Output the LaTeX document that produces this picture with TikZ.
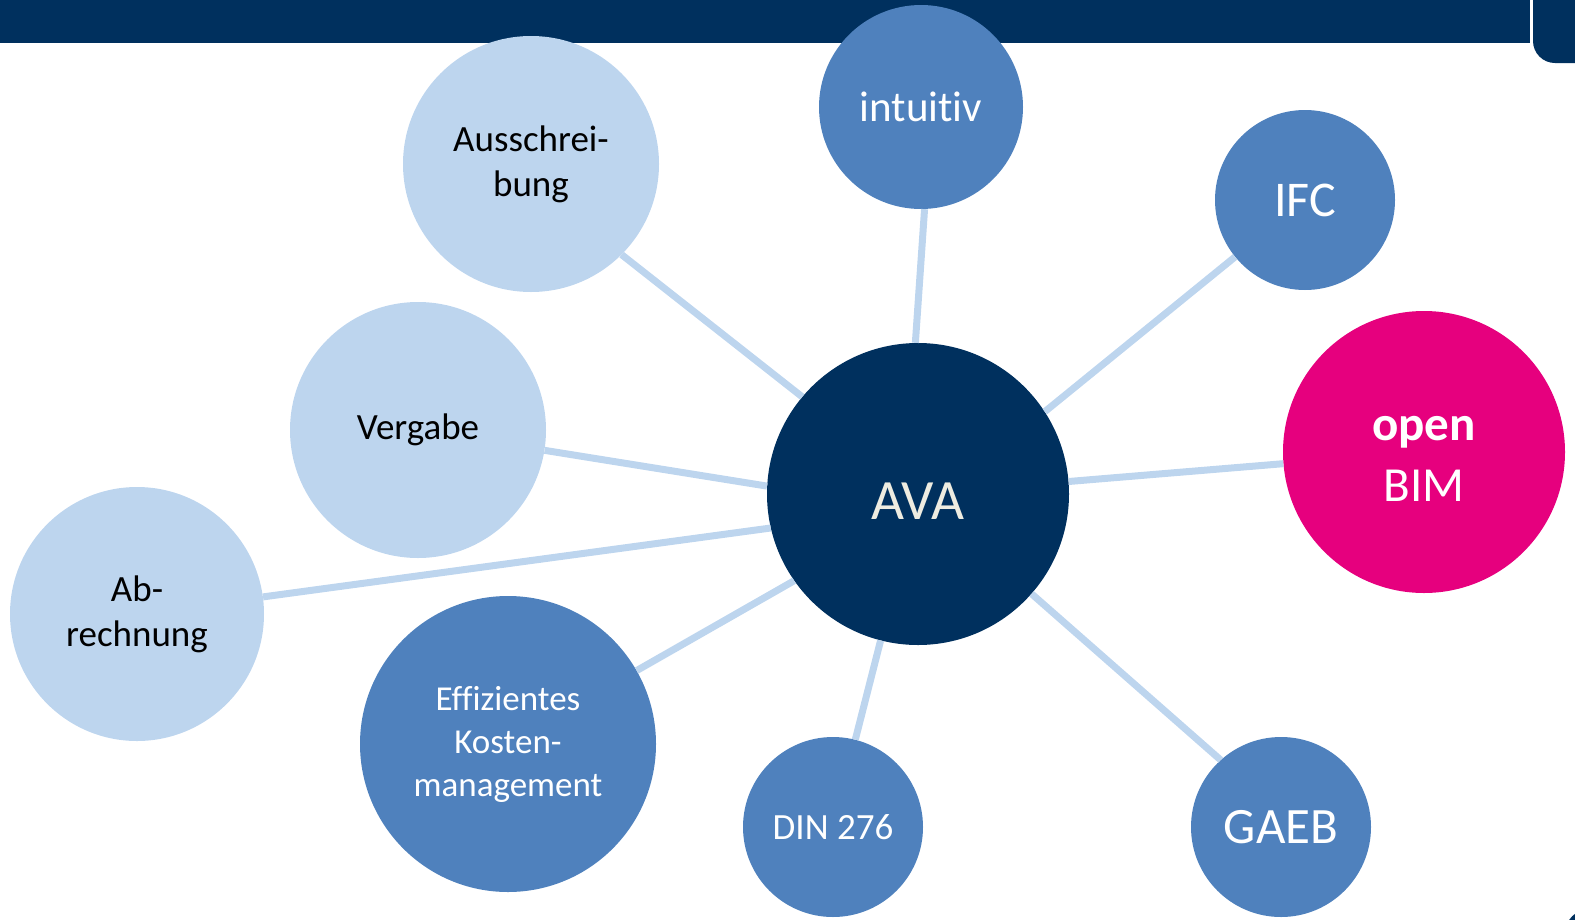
\documentclass[tikz,border=0pt]{standalone}
\usepackage{fontspec}
\setmainfont{Carlito}[Ligatures=NoCommon]
\definecolor{navycol}{RGB}{0,48,94}
\definecolor{bluecol}{RGB}{79,129,189}
\definecolor{lightcol}{RGB}{189,213,238}
\definecolor{pinkcol}{RGB}{230,0,126}
\definecolor{avatext}{RGB}{238,236,225}

\begin{document}
\begin{tikzpicture}[x=1pt, y=-1pt,
    bubble/.style={circle, inner sep=0pt, align=center},
    light/.style={bubble, fill=lightcol, text=black, font=\fontsize{37}{45}\selectfont},
    mid/.style={bubble, fill=bluecol, text=white},
    link/.style={lightcol, line width=7pt}]
    \useasboundingbox (0,0) rectangle (1575,919);
    \clip (0,0) rectangle (1575,919);

    % header bar
    \fill[navycol] (0,-10) rectangle (1530,43);
    \fill[navycol, rounded corners=22pt] (1533,-40) rectangle (1620,63);
    \fill[navycol] (1592,936) circle (28);

    \node[bubble, fill=navycol, text=avatext, minimum size=302, font=\fontsize{57}{68}\selectfont,
          text height=51pt, text depth=0pt] (ava) at (918,494) {AVA};

    \node[light, minimum size=256] (aus) at (531,164) {Ausschrei-\\bung};
    \node[light, minimum size=256] (verg) at (418,430) {Vergabe};
    \node[light, minimum size=254] (abr) at (137,614) {Ab-\\rechnung};

    \node[mid, minimum size=204, font=\fontsize{43}{52}\selectfont] (intu) at (921,107) {intuitiv};
    \node[mid, minimum size=180, font=\fontsize{50}{60}\selectfont] (ifc) at (1305,200) {IFC};
    \node[mid, minimum size=180, font=\fontsize{51}{62}\selectfont] (gaeb) at (1281,827) {GAEB};
    \node[mid, minimum size=180, font=\fontsize{37}{45}\selectfont] (din) at (833,827) {DIN 276};
    \node[mid, minimum size=296, font=\fontsize{35}{43}\selectfont] (kost) at (508,744) {Effizientes\\Kosten-\\management};

    \node[bubble, fill=pinkcol, text=white, minimum size=282, font=\fontsize{49}{61}\selectfont,
          text height=99pt, text depth=0pt] (bim) at (1424,452) {\textbf{open}\\BIM};

    % links
    \draw[link] (ava.140) -- (aus.315);
    \draw[link] (ava.177) -- (verg);
    \draw[link] (ava.193) -- (abr);
    \draw[link] (ava.215) -- (kost);
    \draw[link] (ava) -- (din);
    \draw[link] (ava) -- (gaeb.132);
    \draw[link] (ava) -- (bim);
    \draw[link] (ava.33) -- (ifc);
    \draw[link] (ava.91) -- (intu.272);

\end{tikzpicture}
\end{document}
